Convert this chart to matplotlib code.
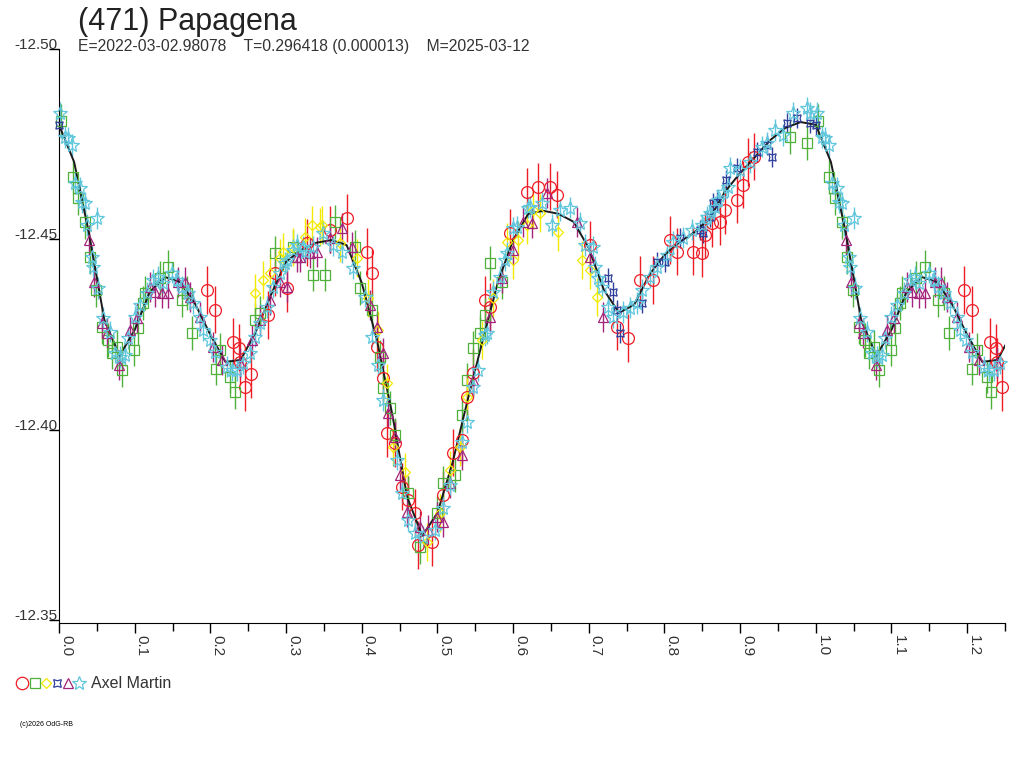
import numpy as np
import matplotlib.pyplot as plt
from matplotlib.lines import Line2D
from matplotlib.ticker import MultipleLocator, FormatStrFormatter

plt.rcParams['font.family'] = ['Liberation Sans', 'DejaVu Sans']

# fitted curve (phase 0..1)
curve_phase = [0.00, 0.02, 0.04, 0.06, 0.08, 0.10, 0.12, 0.14, 0.16, 0.18,
               0.20, 0.22, 0.24, 0.26, 0.28, 0.30, 0.32, 0.34, 0.36, 0.38,
               0.40, 0.42, 0.44, 0.46, 0.48, 0.50, 0.52, 0.54, 0.56, 0.58,
               0.60, 0.62, 0.64, 0.66, 0.68, 0.70, 0.72, 0.74, 0.76, 0.78,
               0.80, 0.82, 0.84, 0.86, 0.88, 0.90, 0.92, 0.94, 0.96, 0.98, 1.00]
curve_mag = [-12.4801, -12.4703, -12.4512, -12.4288, -12.4194, -12.4262, -12.4362, -12.4401, -12.4388, -12.4330,
             -12.4249, -12.4178, -12.4183, -12.4257, -12.4354, -12.4441, -12.4472, -12.4491, -12.4498, -12.4485,
             -12.4386, -12.4236, -12.4044, -12.3823, -12.3721, -12.3781, -12.3913, -12.4078, -12.4236, -12.4388,
             -12.4498, -12.4567, -12.4575, -12.4567, -12.4546, -12.4477, -12.4367, -12.4307, -12.4328, -12.4407,
             -12.4459, -12.4493, -12.4519, -12.4556, -12.4625, -12.4674, -12.4717, -12.4761, -12.4793, -12.4808, -12.4801]

red_phase = [0.196, 0.206, 0.230, 0.238, 0.239, 0.246, 0.254, 0.276, 0.285, 0.301,
             0.328, 0.358, 0.380, 0.407, 0.413, 0.420, 0.428, 0.433, 0.444, 0.453,
             0.461, 0.470, 0.474, 0.493, 0.507, 0.520, 0.532, 0.539, 0.547, 0.563,
             0.569, 0.596, 0.618, 0.633, 0.649, 0.658, 0.701, 0.737, 0.752, 0.768,
             0.785, 0.807, 0.816, 0.838, 0.849, 0.853, 0.863, 0.873, 0.880, 0.896,
             0.904, 0.910, 0.919]
red_mag = [-12.4367, -12.4315, -12.4231, -12.4215, -12.4178, -12.4112, -12.4146, -12.4301, -12.4412, -12.4372,
           -12.4491, -12.4525, -12.4556, -12.4467, -12.4412, -12.4217, -12.4136, -12.3991, -12.3965, -12.3850,
           -12.3815, -12.3781, -12.3697, -12.3705, -12.3829, -12.3939, -12.3973, -12.4086, -12.4149, -12.4341,
           -12.4322, -12.4517, -12.4625, -12.4638, -12.4638, -12.4617, -12.4485, -12.4270, -12.4241, -12.4393,
           -12.4393, -12.4498, -12.4467, -12.4467, -12.4464, -12.4512, -12.4543, -12.4546, -12.4577, -12.4604,
           -12.4643, -12.4703, -12.4717]

green_phase = [0.003, 0.018, 0.025, 0.034, 0.041, 0.049, 0.057, 0.065, 0.070, 0.077,
               0.083, 0.099, 0.104, 0.111, 0.114, 0.133, 0.144, 0.162, 0.169, 0.176,
               0.207, 0.213, 0.226, 0.232, 0.259, 0.266, 0.285, 0.309, 0.336, 0.351,
               0.365, 0.391, 0.398, 0.413, 0.424, 0.428, 0.437, 0.444, 0.461, 0.477,
               0.499, 0.507, 0.523, 0.532, 0.539, 0.547, 0.556, 0.563, 0.569, 0.585,
               0.966, 0.989]
green_mag = [-12.4811, -12.4664, -12.4609, -12.4546, -12.4454, -12.4367, -12.4270, -12.4236, -12.4202, -12.4217,
             -12.4157, -12.4210, -12.4267, -12.4333, -12.4359, -12.4399, -12.4428, -12.4341, -12.4359, -12.4254,
             -12.4160, -12.4210, -12.4139, -12.4099, -12.4288, -12.4307, -12.4464, -12.4480, -12.4407, -12.4407,
             -12.4546, -12.4480, -12.4372, -12.4315, -12.4191, -12.4110, -12.4057, -12.3986, -12.3834, -12.3692,
             -12.3781, -12.3860, -12.3881, -12.4039, -12.4131, -12.4215, -12.4254, -12.4301, -12.4438, -12.4388,
             -12.4769, -12.4753]

yellow_phase = [0.259, 0.269, 0.279, 0.292, 0.296, 0.309, 0.325, 0.334, 0.345, 0.347,
                0.371, 0.394, 0.408, 0.421, 0.433, 0.441, 0.457, 0.486, 0.503, 0.517,
                0.530, 0.539, 0.559, 0.573, 0.592, 0.600, 0.606, 0.618, 0.626, 0.635,
                0.659, 0.691, 0.701, 0.711]
yellow_mag = [-12.4359, -12.4393, -12.4412, -12.4451, -12.4467, -12.4480, -12.4506, -12.4538, -12.4533, -12.4538,
              -12.4491, -12.4451, -12.4346, -12.4262, -12.4123, -12.3955, -12.3889, -12.3705, -12.3781, -12.3894,
              -12.3955, -12.4086, -12.4236, -12.4346, -12.4493, -12.4446, -12.4498, -12.4538, -12.4577, -12.4569,
              -12.4519, -12.4446, -12.4420, -12.4349]

blue_phase = [0.000, 0.725, 0.732, 0.737, 0.741, 0.771, 0.790, 0.801, 0.820, 0.847,
              0.851, 0.860, 0.864, 0.869, 0.882, 0.896, 0.922, 0.935, 0.942, 0.962,
              0.975, 0.992]
blue_mag = [-12.4801, -12.4399, -12.4362, -12.4315, -12.4254, -12.4333, -12.4441, -12.4441, -12.4504, -12.4525,
            -12.4517, -12.4559, -12.4596, -12.4598, -12.4656, -12.4688, -12.4730, -12.4748, -12.4717, -12.4806,
            -12.4819, -12.4806]

purple_phase = [0.040, 0.046, 0.057, 0.063, 0.079, 0.094, 0.103, 0.120, 0.127, 0.136,
                0.144, 0.157, 0.166, 0.173, 0.186, 0.203, 0.215, 0.239, 0.255, 0.266,
                0.279, 0.292, 0.301, 0.314, 0.318, 0.332, 0.341, 0.358, 0.374, 0.387,
                0.411, 0.420, 0.428, 0.435, 0.444, 0.450, 0.460, 0.477, 0.487, 0.499,
                0.507, 0.517, 0.532, 0.547, 0.569, 0.585, 0.600, 0.613, 0.625, 0.645,
                0.684, 0.701, 0.719]
purple_mag = [-12.4498, -12.4388, -12.4280, -12.4254, -12.4170, -12.4262, -12.4294, -12.4375, -12.4362, -12.4359,
              -12.4359, -12.4388, -12.4388, -12.4349, -12.4296, -12.4217, -12.4183, -12.4175, -12.4236, -12.4288,
              -12.4341, -12.4388, -12.4375, -12.4454, -12.4454, -12.4464, -12.4467, -12.4504, -12.4530, -12.4480,
              -12.4328, -12.4270, -12.4202, -12.4044, -12.3981, -12.3881, -12.3784, -12.3745, -12.3737, -12.3771,
              -12.3758, -12.3860, -12.3934, -12.4131, -12.4296, -12.4399, -12.4472, -12.4546, -12.4543, -12.4622,
              -12.4546, -12.4454, -12.4296]

cyan_phase = [0.001, 0.008, 0.012, 0.017, 0.021, 0.028, 0.030, 0.034, 0.037, 0.050,
              0.044, 0.045, 0.052, 0.058, 0.067, 0.074, 0.081, 0.087, 0.091, 0.100,
              0.107, 0.116, 0.124, 0.131, 0.137, 0.149, 0.156, 0.162, 0.170, 0.177,
              0.186, 0.190, 0.199, 0.206, 0.222, 0.229, 0.235, 0.243, 0.252, 0.259,
              0.266, 0.275, 0.283, 0.292, 0.299, 0.301, 0.309, 0.314, 0.322, 0.325,
              0.336, 0.349, 0.362, 0.374, 0.388, 0.404, 0.413, 0.421, 0.428, 0.447,
              0.453, 0.461, 0.470, 0.481, 0.497, 0.507, 0.517, 0.532, 0.539, 0.547,
              0.554, 0.563, 0.565, 0.573, 0.583, 0.589, 0.592, 0.600, 0.605, 0.620,
              0.622, 0.638, 0.651, 0.662, 0.675, 0.688, 0.695, 0.705, 0.708, 0.712,
              0.717, 0.725, 0.732, 0.745, 0.754, 0.764, 0.771, 0.781, 0.790, 0.803,
              0.811, 0.824, 0.836, 0.849, 0.856, 0.860, 0.867, 0.871, 0.877, 0.884,
              0.886, 0.900, 0.913, 0.929, 0.935, 0.946, 0.956, 0.970, 0.988, 0.992]
cyan_mag = [-12.4832, -12.4769, -12.4766, -12.4748, -12.4648, -12.4635, -12.4598, -12.4596, -12.4538, -12.4556,
            -12.4454, -12.4428, -12.4372, -12.4294, -12.4257, -12.4202, -12.4191, -12.4196, -12.4241, -12.4296,
            -12.4328, -12.4359, -12.4393, -12.4401, -12.4386, -12.4412, -12.4393, -12.4375, -12.4359, -12.4333,
            -12.4296, -12.4262, -12.4236, -12.4204, -12.4165, -12.4157, -12.4157, -12.4175, -12.4202, -12.4244,
            -12.4280, -12.4322, -12.4375, -12.4412, -12.4438, -12.4446, -12.4472, -12.4485, -12.4480, -12.4467,
            -12.4480, -12.4517, -12.4485, -12.4467, -12.4425, -12.4349, -12.4244, -12.4170, -12.4078, -12.3921,
            -12.3834, -12.3763, -12.3729, -12.3718, -12.3737, -12.3794, -12.3855, -12.3968, -12.4020, -12.4112,
            -12.4157, -12.4249, -12.4254, -12.4362, -12.4401, -12.4446, -12.4464, -12.4530, -12.4533, -12.4583,
            -12.4585, -12.4596, -12.4538, -12.4577, -12.4583, -12.4543, -12.4485, -12.4480, -12.4428, -12.4399,
            -12.4375, -12.4322, -12.4296, -12.4309, -12.4320, -12.4333, -12.4367, -12.4401, -12.4428, -12.4459,
            -12.4493, -12.4504, -12.4525, -12.4538, -12.4559, -12.4569, -12.4585, -12.4604, -12.4625, -12.4638,
            -12.4688, -12.4682, -12.4703, -12.4743, -12.4753, -12.4787, -12.4774, -12.4832, -12.4845, -12.4832]

# typical error of each session
errs = [0.0062, 0.0044, 0.0050, 0.0026, 0.0040, 0.0028]

title = '(471) Papagena'
subtitle = 'E=2022-03-02.98078    T=0.296418 (0.000013)    M=2025-03-12'
observer = 'Axel Martin'

# marker, colour, size
styles = [('o', '#ee1c24', 8.5),
          ('s', '#4fb03a', 6.8),
          ('D', '#f2ea00', 5.2),
          ((4, 1, 45), '#2e3f9c', 7.5),
          ('^', '#a3247a', 7.2),
          ('*', '#5fc6dc', 10.0)]
data = [(red_phase, red_mag), (green_phase, green_mag), (yellow_phase, yellow_mag),
        (blue_phase, blue_mag), (purple_phase, purple_mag), (cyan_phase, cyan_mag)]


def wrap(p, m, upto):
    p = np.array(p)
    m = np.array(m)
    sel = p <= upto
    return np.concatenate([p, p[sel] + 1]), np.concatenate([m, m[sel]])


fig = plt.figure(figsize=(10.24, 7.68), dpi=100)
ax = fig.add_axes([59/1024, 1 - 623/768, (1005 - 59)/1024, (623 - 49)/768])

cp, cm = wrap(curve_phase, curve_mag, 0.26)

for i, ((p, m), (mk, col, ms)) in enumerate(zip(data, styles)):
    if i == 5:
        ax.plot(cp, cm, color='#1a1a1a', lw=1.4, zorder=2)
    pp, mm = wrap(p, m, 0.25)
    ax.errorbar(pp, mm, yerr=errs[i], fmt='none', ecolor=col, elinewidth=1.0,
                capsize=0, zorder=1 + i * 0.1, clip_on=False)
    ax.plot(pp, mm, linestyle='none', marker=mk, ms=ms, mfc='none', mec=col,
            mew=0.9, zorder=3 + i * 0.1, clip_on=False)

ax.set_xlim(0, 1.25)
ax.set_ylim(-12.3492, -12.50)
ax.spines['top'].set_visible(False)
ax.spines['right'].set_visible(False)

ax.xaxis.set_major_locator(MultipleLocator(0.1))
ax.xaxis.set_minor_locator(MultipleLocator(0.05))
ax.xaxis.set_major_formatter(FormatStrFormatter('%.1f'))
ax.set_yticks([-12.50, -12.45, -12.40, -12.35])
ax.yaxis.set_major_formatter(FormatStrFormatter('%.2f'))

ax.tick_params(axis='x', which='major', length=7.5, width=1, direction='out',
               labelsize=11, labelrotation=-90, pad=1, labelcolor='#333333')
ax.tick_params(axis='x', which='minor', length=6, width=1, direction='out')
ax.tick_params(axis='y', length=7.5, width=1, direction='out', labelsize=11,
               pad=-6.5, labelcolor='#333333')
plt.setp(ax.get_xticklabels(), ha='left')
plt.setp(ax.get_yticklabels(), va='baseline')

fig.text(78/1024, 1 - 22/768, title, fontsize=22, va='center', color='#222222')
fig.text(78/1024, 1 - 47/768, subtitle, fontsize=11.3, va='center', color='#333333')

# observer key at the bottom
key_x = [22, 35, 46, 57, 68, 79]
for (mk, col, ms), kx in zip(styles, key_x):
    fig.add_artist(Line2D([kx/1024], [1 - 683/768], marker=mk, ms=ms * 1.05, mfc='none',
                          mec=col, mew=0.9, linestyle='none', transform=fig.transFigure))
fig.text(91/1024, 1 - 683/768, observer, fontsize=11.5, va='center', color='#333333')
fig.text(20/1024, 1 - 724/768, '(c)2026 OdG-RB', fontsize=5, va='center')

fig.savefig('out.png', dpi=100)
